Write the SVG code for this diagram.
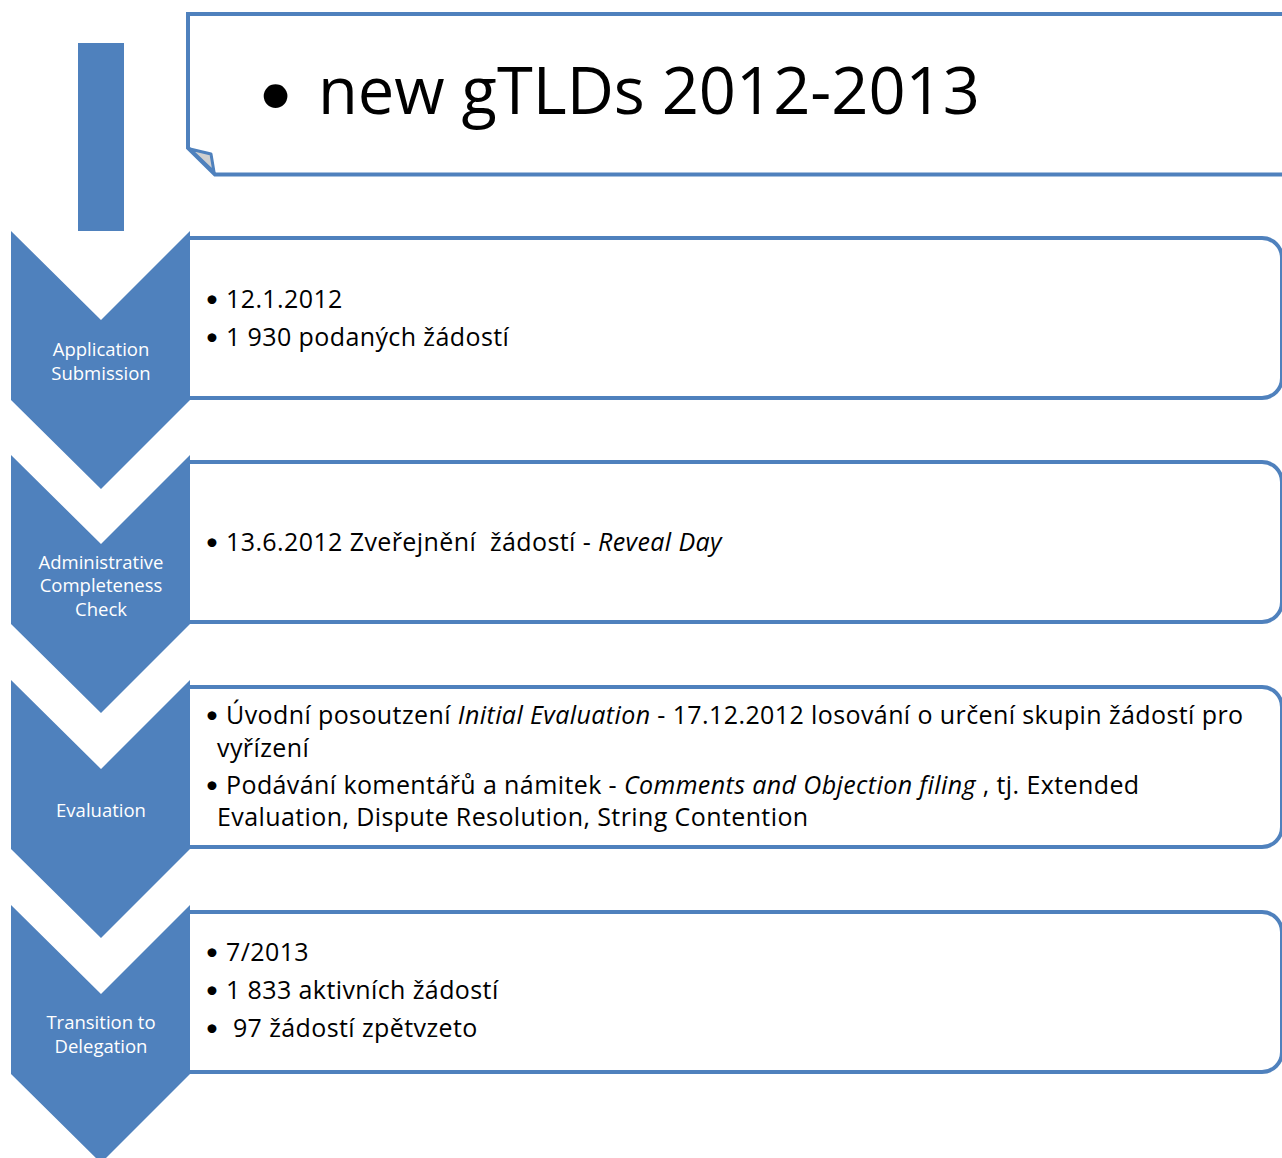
<svg xmlns="http://www.w3.org/2000/svg" width="1282" height="1158" viewBox="0 0 1282 1158">
<style>
.chev{fill:#4F81BD}
.box{fill:#fff;stroke:#4F81BD;stroke-width:4}
.lbl{font-family:"Open Sans","Liberation Sans",sans-serif;font-size:18.5px;fill:#fff;text-anchor:middle}
.t{font-family:"Open Sans","Liberation Sans",sans-serif;font-size:25px;letter-spacing:0.4px;fill:#000;white-space:pre}
.b{font-family:Lato,"Liberation Sans",sans-serif;font-size:24px;fill:#000}
.ttl{font-family:"Open Sans","Liberation Sans",sans-serif;font-size:65px;fill:#000}
.i{font-style:italic}
</style>
<rect width="1282" height="1158" fill="#fff"/>
<g id="title">
<rect x="78" y="43" width="46" height="188" class="chev"/>
<path class="box" d="M1290,14 H188 V148 L215,174.5 H1290"/>
<path d="M190,149 L211,154 L214,172 Z" fill="#D0D0D0" stroke="#4F81BD" stroke-width="3" stroke-linejoin="round"/>
<text x="257" y="115" font-family="Lato, sans-serif" font-size="64px">•</text>
<text class="ttl" x="318" y="114">new gTLDs 2012-2013</text>
</g>
<g id="boxes">
<path class="box" d="M190,238 H1262 A20,20 0 0 1 1282,258 V378 A20,20 0 0 1 1262,398 H190"/>
<path class="box" d="M190,462 H1262 A20,20 0 0 1 1282,482 V602 A20,20 0 0 1 1262,622 H190"/>
<path class="box" d="M190,687 H1262 A20,20 0 0 1 1282,707 V827 A20,20 0 0 1 1262,847 H190"/>
<path class="box" d="M190,912 H1262 A20,20 0 0 1 1282,932 V1052 A20,20 0 0 1 1262,1072 H190"/>
</g>
<g id="step1">
<path class="chev" d="M11,231 L101,320 L190,231 V400 L101,489 L11,400 Z"/>
<text class="lbl" x="101" y="356">Application</text>
<text class="lbl" x="101" y="380">Submission</text>
<text class="b" x="205" y="307">•</text>
<text class="t" x="226" y="308">12.1.2012</text>
<text class="b" x="205" y="345">•</text>
<text class="t" x="226" y="346">1 930 podaných žádostí</text>
</g>
<g id="step2">
<path class="chev" d="M11,455 L101,544 L190,455 V624 L101,713 L11,624 Z"/>
<text class="lbl" x="101" y="569">Administrative</text>
<text class="lbl" x="101" y="592">Completeness</text>
<text class="lbl" x="101" y="616">Check</text>
<text class="b" x="205" y="550">•</text>
<text class="t" x="226" y="551">13.6.2012 Zveřejnění  žádostí - <tspan class="i">Reveal Day</tspan></text>
</g>
<g id="step3">
<path class="chev" d="M11,680 L101,769 L190,680 V849 L101,938 L11,849 Z"/>
<text class="lbl" x="101" y="817">Evaluation</text>
<text class="b" x="205" y="723">•</text>
<text class="t" x="226" y="724">Úvodní posoutzení <tspan class="i">Initial Evaluation</tspan> - 17.12.2012 losování o určení skupin žádostí pro</text>
<text class="t" x="217" y="757">vyřízení</text>
<text class="b" x="205" y="793">•</text>
<text class="t" x="226" y="794">Podávání komentářů a námitek - <tspan class="i">Comments and Objection filing</tspan> , tj. Extended</text>
<text class="t" x="217" y="826">Evaluation, Dispute Resolution, String Contention</text>
</g>
<g id="step4">
<path class="chev" d="M11,905 L101,994 L190,905 V1074 L101,1163 L11,1074 Z"/>
<text class="lbl" x="101" y="1029">Transition to</text>
<text class="lbl" x="101" y="1053">Delegation</text>
<text class="b" x="205" y="960">•</text>
<text class="t" x="226" y="961">7/2013</text>
<text class="b" x="205" y="998">•</text>
<text class="t" x="226" y="999">1 833 aktivních žádostí</text>
<text class="b" x="205" y="1036">•</text>
<text class="t" x="226" y="1037"> 97 žádostí zpětvzeto</text>
</g>
</svg>
